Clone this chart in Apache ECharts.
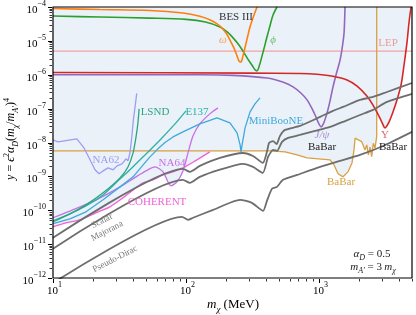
<!DOCTYPE html>
<html><head><meta charset="utf-8">
<script src="https://cdn.jsdelivr.net/npm/echarts@6/dist/echarts.min.js"></script>
<style>html,body{margin:0;padding:0;background:#fff}#c{width:416px;height:315px}</style>
</head><body><div id="c"></div>
<script>
// ---------------- data ----------------
const xMajorTicks = [10, 100, 1000];
const xMajorExps = ['1', '2', '3'];
const xMinorTicks = [20,30,40,50,60,70,80,90,200,300,400,500,600,700,800,900,2000,3000,4000,5000];
const yMajorTicks = [1e-12,1e-11,1e-10,1e-9,1e-8,1e-7,1e-6,1e-5,1e-4];
const yMajorExps = ['−12','−11','−10','−9','−8','−7','−6','−5','−4'];
const yMinorSubs = [2,3,4,5,6,7,8,9];

const omegaBES = [[10,9.0e-5],[22.6,8.4e-5],[53.6,7.9e-5],[94.8,6.65e-5],[127,5.3e-5],[155,4.0e-5],[180,2.75e-5],[200,1.7e-5],[214,1.06e-5],[230,6.0e-6],[242,3.6e-6],[251,2.5e-6],[259,2.4e-6],[266,3.2e-6],[278,6.5e-6],[290,1.3e-5],[303,2.6e-5],[320,5.0e-5],[342,1e-4]];
const phiBES = [[10,5.4e-5],[22.6,5.07e-5],[53.6,4.7e-5],[100,4.3e-5],[140,3.6e-5],[180,2.57e-5],[205,1.8e-5],[225,1.25e-5],[250,7.6e-6],[268,5.0e-6],[290,3.0e-6],[314,1.9e-6],[330,1.4e-6],[342,1.3e-6],[355,1.8e-6],[373,3.6e-6],[390,7.0e-6],[406,1.3e-5],[430,3.0e-5],[451,5.8e-5],[483,1e-4]];
const lepLine = [[10,5e-6],[5000,5e-6]];
const upsilonBaBar = [[10,1.17e-6],[300,1.12e-6],[719,1.09e-6],[966,1.03e-6],[1274,9.0e-7],[1624,7.0e-7],[1934,4.6e-7],[2297,2.3e-7],[2635,1.0e-7],[2924,4.5e-8],[3080,2.9e-8],[3135,2.7e-8],[3200,2.9e-8],[3357,4.0e-8],[3597,8.0e-8],[3855,1.81e-7],[4138,5.0e-7],[4357,1.94e-6],[4590,9.3e-6],[4752,3.6e-5],[4920,1e-4]];
const jpsiBaBar = [[10,1.0e-6],[127,1.0e-6],[225,9.6e-7],[406,8.0e-7],[540,6.0e-7],[638,4.4e-7],[730,2.9e-7],[813,1.81e-7],[880,1.05e-7],[934,6.5e-8],[990,3.8e-8],[1036,2.9e-8],[1080,3.6e-8],[1149,7.5e-8],[1210,1.7e-7],[1274,4.4e-7],[1360,1.2e-6],[1439,2.7e-6],[1500,7.0e-6],[1542,1.7e-5],[1568,1e-4]];
const babarMono = [[10,5.65e-9],[428,5.65e-9],[555,5.28e-9],[684,4.3e-9],[813,3.5e-9],[1211,3.05e-9],[1297,2.18e-9],[1390,1.19e-9],[1515,9.7e-10],[1652,1.36e-9],[1770,2.5e-9],[1833,6.05e-9],[1866,1.34e-8],[1920,1.43e-8],[1973,1.19e-8],[2032,1.34e-8],[2094,1.06e-8],[2153,1.19e-8],[2218,6.05e-9],[2284,8.5e-9],[2349,4.3e-9],[2418,7.3e-9],[2489,3.84e-9],[2559,9.5e-9],[2635,6.8e-9],[2714,1.49e-8],[2714,1e-4]];
const miniboone = [[10,4.0e-11],[13.4,5.6e-11],[17.7,9.0e-11],[23.8,2.03e-10],[31.9,4.9e-10],[40,9.7e-10],[47.6,2.18e-9],[53.6,3.76e-9],[61.5,6.5e-9],[69.5,1.0e-8],[79.8,1.46e-8],[94.8,2.05e-8],[127,3.54e-8],[171,5.3e-8],[214,3.8e-8],[242,1.92e-8],[255,8.5e-9],[259,5.3e-9],[264,8.5e-9],[278,2.7e-8],[303,8.0e-8],[330,1.38e-7],[360,2.07e-7]];
const lsnd = [[10,4.9e-11],[13.4,7.8e-11],[17.7,1.44e-10],[23.8,3.26e-10],[31.9,9.0e-10],[36.6,1.9e-9],[40,4.93e-9],[42.1,1.46e-8],[43.5,3.8e-8],[44.4,9.8e-8]];
const e137 = [[10,4.5e-11],[17.7,1.35e-10],[23.8,2.84e-10],[30.3,6.9e-10],[37.9,1.56e-9],[49.2,4.3e-9],[63.8,1.19e-8],[82.7,3.54e-8],[100,8.6e-8]];
const na62 = [[10,1.19e-8],[10.9,1.04e-8],[15.1,1.28e-8],[17.1,6.9e-9],[18.7,3.5e-9],[20.7,1.56e-9],[22.2,1.19e-9],[23.8,1.45e-9],[25.9,1.78e-9],[28.3,1.56e-9],[30.3,2.04e-9],[33,2.34e-9],[35.4,3.3e-9],[36.6,2.86e-9],[37.9,4.9e-9],[39.1,1.43e-8],[40.2,4.7e-8],[41.4,1.12e-7],[42.6,2.83e-7]];
const na64 = [[10,6.0e-11],[16,1.26e-10],[22.6,2.32e-10],[31.9,4.9e-10],[42.1,9.7e-10],[50,1.45e-9],[58.5,1.9e-9],[67.2,1.36e-9],[77.1,5.25e-10],[85.5,6.9e-10],[94.8,1.45e-9],[104,5.3e-9],[113,1.57e-8],[127,3.54e-8],[151,7.0e-8],[174,1.05e-7]];
const coherent = [[10,3.24e-11],[12.5,4.25e-11],[16,5.2e-11],[21,8.4e-11],[26.8,1.26e-10],[33.6,2.32e-10],[40,4.0e-10],[47.6,6.4e-10],[56.5,7.9e-10],[67.2,1.1e-9],[79.8,1.36e-9],[94.8,1.78e-9],[117,2.86e-9],[151,5.3e-9]];
const scalarTarget = [[10,1.53e-11],[94.8,1.66e-9],[107,1.36e-9],[127,2.04e-9],[180,3.5e-9],[268,4.9e-9],[319,4.0e-9],[378,2.5e-9],[406,5.3e-9],[421,9.7e-9],[451,1.1e-8],[480,9.0e-9],[509,1.57e-8],[555,2.35e-8],[719,3.09e-8],[1019,5.7e-8],[1274,8.6e-8],[1515,1.12e-7],[2032,1.81e-7],[2547,2.21e-7],[3243,3.1e-7],[5000,5.7e-7]];
const majoranaTarget = [[10,7.3e-12],[94.8,7.9e-10],[107,6.4e-10],[127,9.7e-10],[180,1.58e-9],[268,2.34e-9],[319,1.9e-9],[378,1.27e-9],[414,3.76e-9],[451,6.0e-9],[483,5.65e-9],[527,1.04e-8],[585,1.37e-8],[719,1.67e-8],[934,2.2e-8],[1211,2.88e-8],[1568,4.3e-8],[2032,6.5e-8],[2547,9.2e-8],[3243,1.58e-7],[5000,2.72e-7]];
const pseudoDiracTarget = [[10,7.1e-13],[93.3,6.4e-11],[103.5,5.2e-11],[113,6.0e-11],[160,1.03e-10],[255,2.03e-10],[313,1.65e-10],[380,9.6e-11],[406,1.9e-10],[443,4.3e-10],[483,4.9e-10],[536,7.9e-10],[684,1.1e-9],[966,1.78e-9],[1439,2.86e-9],[2032,4.3e-9],[3027,7.9e-9],[5000,2.06e-8]];
const upsilonAtBabarEdge = [[2714,8.0e-8]];

// lower boundary of the shaded (excluded) region, assembled from the curves above
const shadeFloor = [].concat(
  coherent.filter(p => p[0] <= 67.2),
  na64.filter(p => p[0] >= 77 && p[0] <= 95),
  coherent.filter(p => p[0] >= 117),
  babarMono.filter(p => p[0] >= 400 && p[1] < 1e-4),
  upsilonAtBabarEdge,
  upsilonBaBar.filter(p => p[0] > 2714),
  [[5000,1e-4]]
);

// ---------------- chart ----------------
const F = "'Liberation Serif','DejaVu Serif',serif";
const X_MIN = 10, X_MAX = 5000, Y_MIN = 1e-12, Y_MAX = 1e-4;
const chart = echarts.init(document.getElementById('c'), null, {renderer: 'canvas'});

function curve(data, color, width, smooth, z) {
  return {type: 'line', data: data, symbol: 'none', silent: true, z: z || 5,
    smooth: smooth || false,
    lineStyle: {color: color, width: width}};
}

const supRich = {
  b: {fontSize: 11, fontFamily: F, lineHeight: 16, verticalAlign: 'bottom', fill: '#000'},
  s: {fontSize: 8, fontFamily: F, lineHeight: 8, verticalAlign: 'top', fill: '#000'}
};

const yMinorTicks = [];
yMajorTicks.slice(0, -1).forEach(d => yMinorSubs.forEach(m => yMinorTicks.push(m * d)));

function xTickSeries(values, major) {
  return {type: 'custom', silent: true, clip: false, z: 20,
    data: values.map(v => [v, Y_MIN]),
    renderItem: function (params, api) {
      const p = api.coord([api.value(0), api.value(1)]);
      const x = Math.round(p[0]) + 0.5, y = Math.round(p[1]) + 1;
      const ch = [{type: 'line', shape: {x1: x, y1: y, x2: x, y2: y + (major ? 4 : 2.5)},
        style: {stroke: '#000', lineWidth: major ? 1 : 0.8}}];
      if (major) ch.push({type: 'text', x: x + 1, y: y + 10, style: {
        text: '{b|10}{s|' + xMajorExps[params.dataIndex] + '}', rich: supRich,
        align: 'center', verticalAlign: 'middle'}});
      return {type: 'group', children: ch};
    }};
}
function yTickSeries(values, major) {
  return {type: 'custom', silent: true, clip: false, z: 20,
    data: values.map(v => [X_MIN, v]),
    renderItem: function (params, api) {
      const p = api.coord([api.value(0), api.value(1)]);
      const x = Math.round(p[0]) - 1, y = Math.round(p[1]) + 0.5;
      const ch = [{type: 'line', shape: {x1: x - (major ? 4 : 2.5), y1: y, x2: x, y2: y},
        style: {stroke: '#000', lineWidth: major ? 1 : 0.8}}];
      if (major) ch.push({type: 'text', x: x - 6, y: y, style: {
        text: '{b|10}{s|' + yMajorExps[params.dataIndex] + '}', rich: supRich,
        align: 'right', verticalAlign: 'middle'}});
      return {type: 'group', children: ch};
    }};
}

function label(x, y, text, color, size, italic, rot) {
  return {type: 'text', x: x, y: y, z: 100, silent: true, rotation: rot || 0,
    style: {text: text, fill: color, fontSize: size || 11, fontFamily: F,
      fontStyle: italic ? 'italic' : 'normal',
      align: 'center', verticalAlign: 'middle'}};
}
function richLabel(x, y, text, size, color, rot) {
  const L = Math.round(size * 1.4);
  const small = Math.round(size * 0.7);
  return {type: 'text', x: x, y: y, z: 100, silent: true, rotation: rot || 0,
    style: {text: text, fill: color, fontSize: size, fontFamily: F, lineHeight: L,
      align: 'center', verticalAlign: 'middle',
      rich: {
        i: {fontStyle: 'italic', fontSize: size, fontFamily: F, lineHeight: L},
        n: {fontSize: size, fontFamily: F, lineHeight: L},
        sb: {fontStyle: 'italic', fontSize: small, fontFamily: F, lineHeight: small + 1, verticalAlign: 'bottom'},
        sp: {fontSize: small, fontFamily: F, lineHeight: small + 1, verticalAlign: 'top'}
      }}};
}

const gray = '#6e6e6e';
const option = {
  animation: false,
  backgroundColor: '#fff',
  grid: {left: 53, right: 4, top: 7, bottom: 37, show: true, backgroundColor: '#eaf1f8', borderWidth: 0},
  xAxis: {type: 'log', logBase: 10, min: X_MIN, max: X_MAX,
    axisLine: {show: false}, axisTick: {show: false}, axisLabel: {show: false}, splitLine: {show: false}},
  yAxis: {type: 'log', logBase: 10, min: Y_MIN, max: Y_MAX,
    axisLine: {show: false}, axisTick: {show: false}, axisLabel: {show: false}, splitLine: {show: false}},
  series: [
    {type: 'line', data: shadeFloor, symbol: 'none', silent: true, z: 1,
      lineStyle: {width: 0, opacity: 0}, areaStyle: {color: '#ffffff', opacity: 1, origin: 'start'}},
    curve(lepLine, '#f2a3a3', 1.3, false, 3),
    curve(babarMono, '#d8a043', 1.3, false, 4),
    curve(na62, '#9d9df2', 1.3, false, 5),
    curve(coherent, '#f062d6', 1.3, 0.25, 5),
    curve(na64, '#c96fe6', 1.3, 0.25, 5),
    curve(miniboone, '#3fa9dd', 1.3, false, 5),
    curve(e137, '#2bb2a4', 1.3, 0.2, 5),
    curve(lsnd, '#2ba57e', 1.3, 0.2, 5),
    curve(jpsiBaBar, '#9467bd', 1.6, 0.3, 6),
    curve(upsilonBaBar, '#d62728', 1.6, 0.3, 6),
    curve(phiBES, '#2ca02c', 1.6, 0.3, 6),
    curve(omegaBES, '#ff7f0e', 1.6, 0.3, 6),
    curve(pseudoDiracTarget, gray, 1.8, 0.2, 7),
    curve(majoranaTarget, gray, 1.8, 0.2, 7),
    curve(scalarTarget, gray, 1.8, 0.2, 7),
    xTickSeries(xMajorTicks, true), xTickSeries(xMinorTicks, false),
    yTickSeries(yMajorTicks, true), yTickSeries(yMinorTicks, false)
  ],
  graphic: [
    {type: 'rect', z: 99, silent: true, shape: {x: 53, y: 7, width: 359, height: 271},
      style: {fill: null, stroke: '#000', lineWidth: 1.2}},
    label(236, 17, 'BES III', '#333', 11),
    label(223, 40, 'ω', '#f5a05c', 11, true),
    label(273, 40, 'ϕ', '#6cbf6c', 11, true),
    label(388, 43, 'LEP', '#ee9a9a', 11),
    label(322, 135, 'J/ψ', '#a98bd0', 11, true),
    label(322, 147, 'BaBar', '#222', 11),
    label(385, 135, 'Υ', '#e06666', 11),
    label(393, 147, 'BaBar', '#222', 11),
    label(341, 182, 'BaBar', '#d8a043', 11),
    label(276, 121, 'MiniBooNE', '#3fa9dd', 11),
    label(155, 112, 'LSND', '#2ba57e', 11),
    label(197, 112, 'E137', '#2bb2a4', 11),
    label(106, 160, 'NA62', '#9d9df2', 11),
    label(172, 163, 'NA64', '#c96fe6', 11),
    label(157, 202, 'COHERENT', '#f062d6', 11),
    label(102, 221, 'Scalar', '#777', 9, false, 0.47),
    label(107, 231, 'Majorana', '#777', 9, false, 0.47),
    label(115, 259, 'Pseudo-Dirac', '#777', 9, false, 0.47),
    richLabel(372, 254, '{i|α}{sb|D}{n| = 0.5}', 11, '#222'),
    richLabel(373, 267, '{i|m}{sb|A′}{n| = 3\u2009}{i|m}{sb|χ}', 11, '#222'),
    richLabel(233, 305, '{i|m}{sb|χ}{n| (MeV)}', 13, '#000'),
    richLabel(11, 139, '{i|y}{n| = }{i|ϵ}{sp|2}{i|α}{sb|D}{n|(}{i|m}{sb|χ}{n|/}{i|m}{sb|A′}{n|)}{sp|4}', 12, '#000', Math.PI / 2)
  ]
};
chart.setOption(option);
</script>
</body></html>
